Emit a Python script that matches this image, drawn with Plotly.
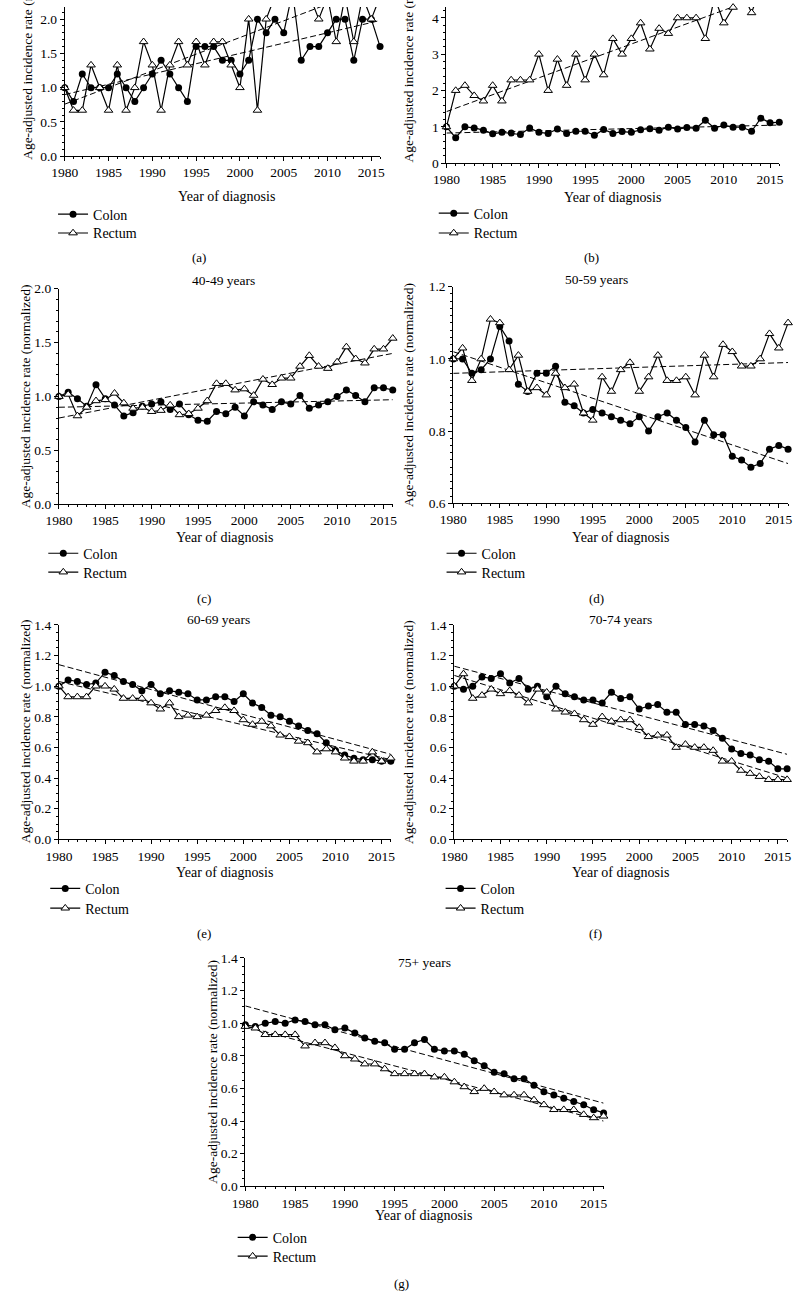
import plotly.graph_objects as go

W, H = 797, 1309
FONT = "Liberation Serif"

years = list(range(1980, 2017))
trend_years = [1980, 2016]
x_tick_labels = [1980, 1985, 1990, 1995, 2000, 2005, 2010, 2015]

# (a)
a_colon = [1.0, 0.8, 1.2, 1.0, 1.0, 1.0, 1.2, 1.0, 0.8, 1.0,
           1.2, 1.4, 1.2, 1.0, 0.8, 1.6, 1.6, 1.6, 1.4, 1.4,
           1.2, 1.4, 2.0, 1.8, 2.0, 1.8, 2.4, 1.4, 1.6, 1.6,
           1.8, 2.0, 2.0, 1.4, 2.0, 2.0, 1.6]
a_rectum = [1.0, 0.67, 0.67, 1.33, 1.0, 0.67, 1.33, 0.67, 1.0, 1.67,
            1.33, 0.67, 1.33, 1.67, 1.33, 1.67, 1.33, 1.67, 1.67, 1.33,
            1.0, 2.0, 0.67, 2.0, 2.33, 2.67, 2.33, 2.67, 2.33, 2.0,
            2.33, 1.67, 2.33, 1.67, 2.33, 2.0, 2.33]
a_colon_trend = [0.90, 1.98]
a_rectum_trend = [0.76, 2.51]

# (b)
b_colon = [1.0, 0.7, 1.0, 0.97, 0.91, 0.81, 0.85, 0.83, 0.79, 0.97,
           0.85, 0.82, 0.94, 0.82, 0.88, 0.88, 0.77, 0.93, 0.82, 0.87,
           0.85, 0.92, 0.95, 0.91, 0.99, 0.94, 0.98, 0.96, 1.18, 0.96,
           1.05, 0.99, 0.99, 0.88, 1.24, 1.11, 1.13]
b_rectum = [1.0, 2.0, 2.14, 1.86, 1.71, 2.14, 1.71, 2.29, 2.29, 2.29,
            3.0, 2.0, 2.86, 2.14, 3.0, 2.29, 3.0, 2.43, 3.43, 3.0,
            3.43, 3.86, 3.14, 3.71, 3.57, 4.0, 4.0, 4.0, 3.43, 4.57,
            3.86, 4.29, 4.71, 4.14, 4.86, 5.0, 4.71]
b_colon_trend = [0.83, 1.05]
b_rectum_trend = [1.42, 4.77]

# (c) 40-49 years
c_colon = [1.0, 1.04, 0.98, 0.91, 1.11, 0.98, 0.92, 0.82, 0.85, 0.91,
           0.93, 0.95, 0.88, 0.93, 0.83, 0.78, 0.77, 0.86, 0.84, 0.9,
           0.82, 0.95, 0.92, 0.88, 0.95, 0.93, 1.01, 0.89, 0.92, 0.95,
           1.0, 1.06, 1.01, 0.95, 1.08, 1.08, 1.06]
c_rectum = [1.0, 1.02, 0.82, 0.9, 0.96, 0.97, 1.03, 0.94, 0.89, 0.9,
            0.86, 0.87, 0.92, 0.83, 0.84, 0.89, 0.96, 1.12, 1.12, 1.06,
            1.07, 1.01, 1.16, 1.11, 1.17, 1.17, 1.28, 1.38, 1.28, 1.26,
            1.32, 1.46, 1.35, 1.31, 1.44, 1.44, 1.54]
c_colon_trend = [0.90, 0.97]
c_rectum_trend = [0.80, 1.40]

# (d) 50-59 years
d_colon = [1.0, 1.0, 0.96, 0.97, 1.0, 1.09, 1.05, 0.93, 0.91, 0.96,
           0.96, 0.98, 0.88, 0.87, 0.85, 0.86, 0.85, 0.84, 0.83, 0.82,
           0.84, 0.80, 0.84, 0.85, 0.83, 0.81, 0.77, 0.83, 0.79, 0.79,
           0.73, 0.72, 0.70, 0.71, 0.75, 0.76, 0.75]
d_rectum = [1.0, 1.03, 0.94, 1.0, 1.11, 1.10, 0.97, 1.01, 0.91, 0.92,
            0.90, 0.96, 0.92, 0.93, 0.85, 0.83, 0.95, 0.91, 0.97, 0.99,
            0.91, 0.95, 1.01, 0.94, 0.94, 0.95, 0.90, 1.01, 0.95, 1.04,
            1.02, 0.98, 0.98, 1.0, 1.07, 1.03, 1.10]
d_colon_trend = [1.02, 0.71]
d_rectum_trend = [0.96, 0.99]

# (e) 60-69 years
e_colon = [1.0, 1.04, 1.03, 1.01, 1.02, 1.09, 1.07, 1.03, 1.01, 0.97,
           1.01, 0.95, 0.97, 0.96, 0.95, 0.91, 0.91, 0.93, 0.93, 0.90,
           0.95, 0.89, 0.86, 0.81, 0.80, 0.77, 0.74, 0.71, 0.69, 0.63,
           0.58, 0.55, 0.53, 0.52, 0.52, 0.51, 0.51]
e_rectum = [1.0, 0.93, 0.93, 0.93, 1.0, 1.0, 0.98, 0.92, 0.92, 0.92,
            0.89, 0.85, 0.89, 0.80, 0.81, 0.80, 0.81, 0.84, 0.86, 0.84,
            0.78, 0.75, 0.77, 0.74, 0.68, 0.67, 0.64, 0.63, 0.57, 0.59,
            0.57, 0.53, 0.51, 0.51, 0.57, 0.51, 0.53]
e_colon_trend = [1.14, 0.555]
e_rectum_trend = [1.03, 0.52]

# (f) 70-74 years
f_colon = [1.0, 0.98, 1.0, 1.06, 1.05, 1.08, 1.02, 1.05, 0.98, 1.0,
           0.93, 1.0, 0.95, 0.93, 0.91, 0.91, 0.89, 0.96, 0.92, 0.93,
           0.85, 0.87, 0.88, 0.83, 0.83, 0.75, 0.75, 0.74, 0.71, 0.66,
           0.59, 0.56, 0.55, 0.52, 0.51, 0.46, 0.46]
f_rectum = [1.0, 1.08, 0.92, 0.94, 0.98, 0.95, 0.97, 0.94, 0.89, 0.98,
            0.96, 0.85, 0.83, 0.82, 0.78, 0.75, 0.80, 0.77, 0.78, 0.78,
            0.73, 0.67, 0.68, 0.68, 0.60, 0.62, 0.60, 0.60, 0.58, 0.51,
            0.51, 0.45, 0.43, 0.41, 0.39, 0.39, 0.39]
f_colon_trend = [1.13, 0.555]
f_rectum_trend = [1.07, 0.40]

# (g) 75+ years
g_colon = [0.99, 0.98, 1.0, 1.01, 1.0, 1.02, 1.01, 0.99, 0.99, 0.96,
           0.97, 0.94, 0.91, 0.89, 0.88, 0.84, 0.84, 0.88, 0.90, 0.84,
           0.83, 0.83, 0.81, 0.77, 0.74, 0.70, 0.69, 0.66, 0.66, 0.62,
           0.58, 0.56, 0.54, 0.52, 0.50, 0.47, 0.45]
g_rectum = [0.98, 0.97, 0.93, 0.93, 0.93, 0.93, 0.86, 0.88, 0.88, 0.85,
            0.80, 0.78, 0.75, 0.75, 0.72, 0.69, 0.69, 0.69, 0.69, 0.67,
            0.67, 0.64, 0.61, 0.58, 0.60, 0.58, 0.56, 0.56, 0.56, 0.53,
            0.50, 0.47, 0.47, 0.47, 0.44, 0.42, 0.43]
g_colon_trend = [1.106, 0.51]
g_rectum_trend = [0.98, 0.40]

series_names = ["Colon", "Rectum"]
y_title = "Age-adjusted incidence rate (normalized)"
x_title = "Year of diagnosis"

# layout per panel (pixel boxes: x0, x1, ytop, ybottom)
panels = [
    dict(lab="(a)", title=None, colon=a_colon, rectum=a_rectum, ct=a_colon_trend, rt=a_rectum_trend,
         box=(52, 375, 0, 151), yr=(0, 2.177), dt=0.5, mdt=0.1, fmt=".1f",
         ytx=14, yty=157, ytanchor="bottom", xt=(218, 192), leg=(64, 210, 229), cap=(190, 253), tpos=None),
    dict(lab="(b)", title=None, colon=b_colon, rectum=b_rectum, ct=b_colon_trend, rt=b_rectum_trend,
         box=(443, 784, 0, 158), yr=(0, 4.30), dt=1, mdt=0.2, fmt="d",
         ytx=404, yty=159, ytanchor="bottom", xt=(613, 193), leg=(454, 209, 229), cap=(592, 253), tpos=None),
    dict(lab="(c)", title="40-49 years", colon=c_colon, rectum=c_rectum, ct=c_colon_trend, rt=c_rectum_trend,
         box=(46, 388, 285, 503), yr=(0, 2.0), dt=0.5, mdt=0.1, fmt=".1f",
         ytx=12, yty=394, ytanchor="middle", xt=(216, 537), leg=(54, 553, 572), cap=(195, 598), tpos=(215, 277)),
    dict(lab="(d)", title="50-59 years", colon=d_colon, rectum=d_rectum, ct=d_colon_trend, rt=d_rectum_trend,
         box=(450, 793, 283, 502), yr=(0.6, 1.2), dt=0.2, mdt=0.02, fmt=".1f",
         ytx=404, yty=392, ytanchor="middle", xt=(621, 537), leg=(462, 553, 572), cap=(597, 598), tpos=(597, 276)),
    dict(lab="(e)", title="60-69 years", colon=e_colon, rectum=e_rectum, ct=e_colon_trend, rt=e_rectum_trend,
         box=(46, 386, 625, 842), yr=(0, 1.4), dt=0.2, mdt=0.05, fmt=".1f",
         ytx=12, yty=733, ytanchor="middle", xt=(216, 876), leg=(56, 892, 912), cap=(195, 937), tpos=(209, 620)),
    dict(lab="(f)", title="70-74 years", colon=f_colon, rectum=f_rectum, ct=f_colon_trend, rt=f_rectum_trend,
         box=(451, 792, 625, 842), yr=(0, 1.4), dt=0.2, mdt=0.05, fmt=".1f",
         ytx=404, yty=733, ytanchor="middle", xt=(621, 876), leg=(461, 892, 912), cap=(596, 937), tpos=(621, 620)),
    dict(lab="(g)", title="75+ years", colon=g_colon, rectum=g_rectum, ct=g_colon_trend, rt=g_rectum_trend,
         box=(237, 604, 962, 1193), yr=(0, 1.4), dt=0.2, mdt=0.05, fmt=".1f",
         ytx=203, yty=1077, ytanchor="middle", xt=(420, 1223), leg=(248, 1245, 1264), cap=(397, 1291), tpos=(421, 967)),
]

LEG_MARKER_OFFSET = 24  # legend box left -> marker centre


def px(x):
    return x / W


def py(y):
    return 1 - y / H


fig = go.Figure()
annotations = []
layout = dict(width=W, height=H, autosize=False, margin=dict(l=0, r=0, t=0, b=0, pad=0),
              paper_bgcolor="white", plot_bgcolor="white",
              font=dict(family=FONT, color="black", size=13))

LINE_W = 1.2
dash = "6px,3px"
TICK_SIZE = 13.5

leg_count = 0
for i, p in enumerate(panels):
    n = i + 1
    xa = "x" if n == 1 else f"x{n}"
    ya = "y" if n == 1 else f"y{n}"
    x0, x1, yt, yb = p["box"]

    # trend lines
    for tv in (p["ct"], p["rt"]):
        fig.add_trace(go.Scatter(x=trend_years, y=tv, mode="lines", xaxis=xa, yaxis=ya,
                                 line=dict(color="black", width=1, dash=dash),
                                 showlegend=False, hoverinfo="skip", cliponaxis=True))

    styles = [
        dict(symbol="circle", size=7, color="black"),
        dict(symbol="triangle-up", size=7.5, color="white", line=dict(color="black", width=1)),
    ]
    for k, (vals, mk) in enumerate(zip((p["colon"], p["rectum"]), styles)):
        leg_count += 1
        legname = "legend" if leg_count == 1 else f"legend{leg_count}"
        fig.add_trace(go.Scatter(x=years, y=vals, mode="lines+markers", name=series_names[k],
                                 xaxis=xa, yaxis=ya, legend=legname, cliponaxis=False,
                                 line=dict(color="black", width=LINE_W), marker=mk))
        layout[legname] = dict(x=px(p["leg"][0] - LEG_MARKER_OFFSET), y=py(p["leg"][1 + k]),
                               xanchor="left", yanchor="middle",
                               bgcolor="rgba(0,0,0,0)", font=dict(family=FONT, size=14, color="black"),
                               borderwidth=0)

    xkey = "xaxis" if n == 1 else f"xaxis{n}"
    ykey = "yaxis" if n == 1 else f"yaxis{n}"
    layout[xkey] = dict(domain=[px(x0), px(x1)], anchor=ya, range=[1980, 2016],
                        tickmode="array", tickvals=x_tick_labels, ticktext=[str(v) for v in x_tick_labels],
                        ticks="outside", ticklen=4, tickwidth=1, tickcolor="black",
                        showline=True, linecolor="black", linewidth=1, showgrid=False, zeroline=False,
                        tickfont=dict(family=FONT, size=TICK_SIZE, color="black"),
                        minor=dict(dtick=1, tick0=1980, ticks="outside", ticklen=2, tickcolor="black", showgrid=False))
    layout[ykey] = dict(domain=[py(yb), py(yt)], anchor=xa, range=list(p["yr"]),
                        tick0=0, dtick=p["dt"], tickformat=p["fmt"],
                        ticks="outside", ticklen=4, tickwidth=1, tickcolor="black",
                        showline=True, linecolor="black", linewidth=1, showgrid=False, zeroline=False,
                        tickfont=dict(family=FONT, size=TICK_SIZE, color="black"),
                        minor=dict(dtick=p["mdt"], tick0=0, ticks="outside", ticklen=2, tickcolor="black", showgrid=False))

    annotations.append(dict(text=y_title, textangle=-90, x=px(p["ytx"]), y=py(p["yty"]),
                            xref="paper", yref="paper", xanchor="center", yanchor=p["ytanchor"],
                            showarrow=False, font=dict(family=FONT, size=13.5, color="black")))
    annotations.append(dict(text=x_title, x=px(p["xt"][0]), y=py(p["xt"][1]), xref="paper", yref="paper",
                            xanchor="center", yanchor="middle", showarrow=False,
                            font=dict(family=FONT, size=14, color="black")))
    annotations.append(dict(text=p["lab"], x=px(p["cap"][0]), y=py(p["cap"][1]), xref="paper", yref="paper",
                            xanchor="center", yanchor="middle", showarrow=False,
                            font=dict(family=FONT, size=13, color="black")))
    if p["tpos"]:
        annotations.append(dict(text=p["title"], x=px(p["tpos"][0]), y=py(p["tpos"][1]), xref="paper",
                                yref="paper", xanchor="center", yanchor="middle", showarrow=False,
                                font=dict(family=FONT, size=13.5, color="black")))

layout["annotations"] = annotations
fig.update_layout(**layout)
fig.write_html("out.html")
